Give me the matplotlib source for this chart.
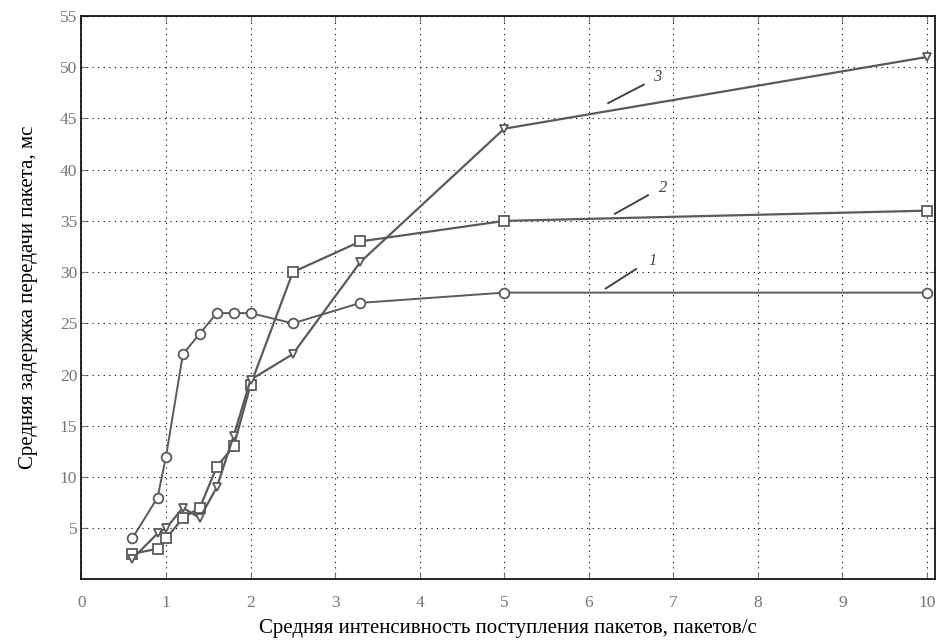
import matplotlib
matplotlib.use("Agg")
import matplotlib.pyplot as plt

# Arrival intensity, packets/s
x = [0.6, 0.9, 1.0, 1.2, 1.4, 1.6, 1.8, 2.0, 2.5, 3.3, 5, 10]
# Mean packet delay, ms, for the three cases
delay_1 = [4, 8, 12, 22, 24, 26, 26, 26, 25, 27, 28, 28]
delay_2 = [2.5, 3, 4, 6, 7, 11, 13, 19, 30, 33, 35, 36]
delay_3 = [2, 4.5, 5, 7, 6, 9, 14, 19.5, 22, 31, 44, 51]

x_ticks = list(range(0, 11))
y_ticks = list(range(5, 56, 5))

plt.rcParams["font.family"] = ["Liberation Serif", "DejaVu Serif"]

fig = plt.figure(figsize=(9.44, 6.43), dpi=100)
ax = fig.add_axes([0.0863, 0.0988, 0.9037, 0.8763])

line_col = "#5a5a5a"
ax.plot(x, delay_1, color=line_col, lw=1.4, marker="o", ms=7,
        mfc="white", mec=line_col, mew=1.3, zorder=3)
ax.plot(x, delay_2, color=line_col, lw=1.6, marker="s", ms=7,
        mfc="white", mec=line_col, mew=1.3, zorder=3)
ax.plot(x, delay_3, color=line_col, lw=1.6, marker="v", ms=5.5,
        mfc="white", mec=line_col, mew=1.3, zorder=3)

ax.set_xlim(0, 10.09)
ax.set_ylim(0, 55)
ax.set_xticks(x_ticks)
ax.set_yticks(y_ticks)
ax.set_xticklabels([str(t) for t in x_ticks])
ax.set_yticklabels([str(t) for t in y_ticks])

ax.grid(True, linestyle=(0, (1, 4)), color="black", lw=0.8)
ax.tick_params(direction="in", length=4, width=0.8, top=True, right=True,
               colors="#777777", labelsize=12.5)
ax.tick_params(axis="x", pad=11)
ax.tick_params(axis="y", pad=3)
for s in ax.spines.values():
    s.set_color("black")
    s.set_linewidth(1.2)

# Curve numbering with leader strokes
notes = [("1", (6.20, 28.4), (6.56, 30.3), (6.70, 31.1)),
         ("2", (6.31, 35.7), (6.70, 37.5), (6.83, 38.2)),
         ("3", (6.23, 46.5), (6.65, 48.3), (6.76, 49.0))]
for txt, p0, p1, pt in notes:
    ax.plot([p0[0], p1[0]], [p0[1], p1[1]], color="#444444", lw=1.4, zorder=2)
    ax.text(pt[0], pt[1], txt, fontsize=12, style="italic", color="#444444",
            ha="left", va="center")

ax.set_xlabel("Средняя интенсивность поступления пакетов, пакетов/с",
              fontsize=15, labelpad=6)
ax.set_ylabel("Средняя задержка передачи пакета, мс", fontsize=15,
              labelpad=16)

fig.savefig("out.png", dpi=100)
